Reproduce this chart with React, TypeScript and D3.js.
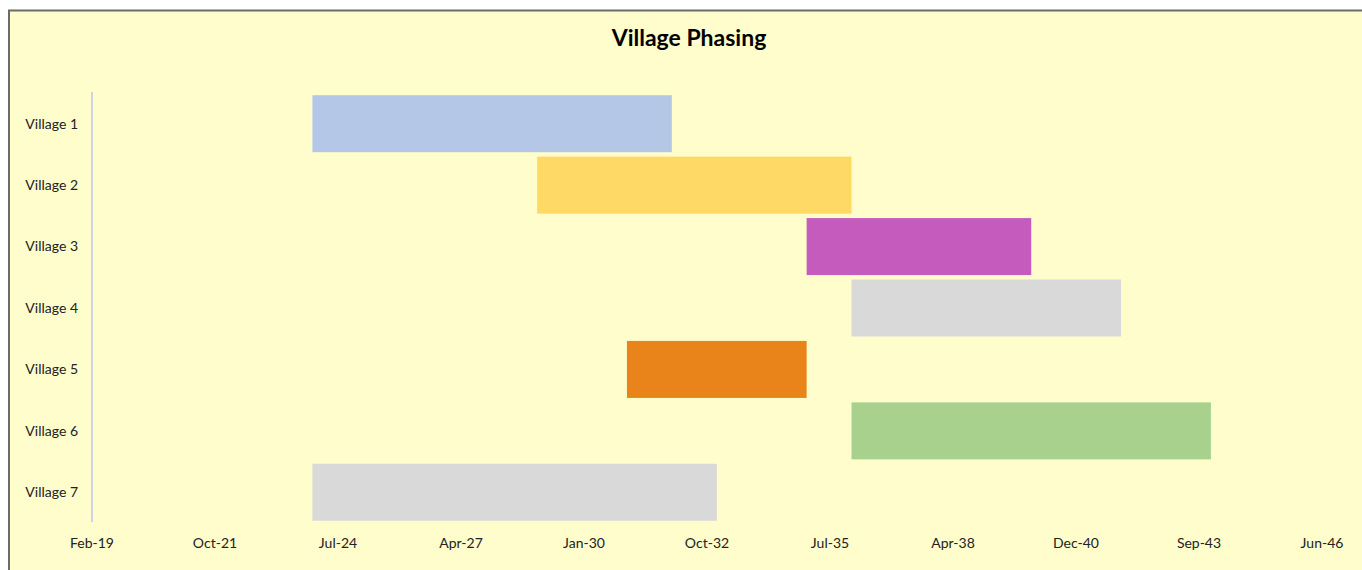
import * as d3 from 'd3'

const villages = ['Village 1', 'Village 2', 'Village 3', 'Village 4', 'Village 5', 'Village 6', 'Village 7']
const startDates = ['2024-01-01', '2029-01-01', '2035-01-01', '2036-01-01', '2031-01-01', '2036-01-01', '2024-01-01']
const endDates = ['2032-01-01', '2036-01-01', '2040-01-01', '2042-01-01', '2035-01-01', '2044-01-01', '2033-01-01']
const barColors = ['#B4C7E7', '#FFD966', '#C55BBD', '#D9D9D9', '#E8841A', '#A9D18E', '#D9D9D9']

// Excel-style axis: 1000-day major unit
const axisMin = new Date(2019, 1, 4)
const axisMax = new Date(2046, 5, 22)
const tickStepDays = 1000

const W = 1362
const H = 570
const X0 = 92
const X1 = 1322
const Y0 = 92
const Y1 = 522
const FONT = 'Lato, "Open Sans", sans-serif'

export default function App() {
  const parse = d3.timeParse('%Y-%m-%d')
  const x = d3.scaleTime().domain([axisMin, axisMax]).range([X0, X1])
  const y = d3.scaleBand<string>().domain(villages).range([Y0 + 1, Y1 + 1]).paddingInner(0.072).paddingOuter(0.036)
  const ticks = d3.range(0, 11).map((i) => d3.timeDay.offset(axisMin, i * tickStepDays))
  const fmt = d3.timeFormat('%b-%y')

  return (
    <svg width={W} height={H} style={{ position: 'absolute', left: 0, top: 0 }}>
      <rect x={0} y={0} width={W} height={H} fill="#ffffff" />
      <rect x={9} y={10.5} width={W + 10} height={H + 10} fill="#FFFDCC" stroke="#6b6b6b" strokeWidth={2} />

      <text x={689} y={46} textAnchor="middle" fontFamily={FONT} fontSize={23} fontWeight={700} fill="#000">
        Village Phasing
      </text>

      {villages.map((v, i) => (
        <rect
          key={v}
          x={x(parse(startDates[i])!)}
          y={y(v)!}
          width={x(parse(endDates[i])!) - x(parse(startDates[i])!)}
          height={y.bandwidth()}
          fill={barColors[i]}
        />
      ))}

      {/* category axis line */}
      <line x1={X0} x2={X0} y1={Y0} y2={Y1} stroke="#D0D4E0" strokeWidth={2} />

      {villages.map((v) => (
        <text
          key={v}
          x={78}
          y={y(v)! + y.bandwidth() / 2}
          dy="0.35em"
          textAnchor="end"
          fontFamily={FONT}
          fontSize={14}
          fill="#222"
        >
          {v}
        </text>
      ))}

      {ticks.map((t) => (
        <text
          key={t.getTime()}
          x={x(t)}
          y={548}
          textAnchor="middle"
          fontFamily={FONT}
          fontSize={14}
          fill="#222"
        >
          {fmt(t)}
        </text>
      ))}
    </svg>
  )
}
